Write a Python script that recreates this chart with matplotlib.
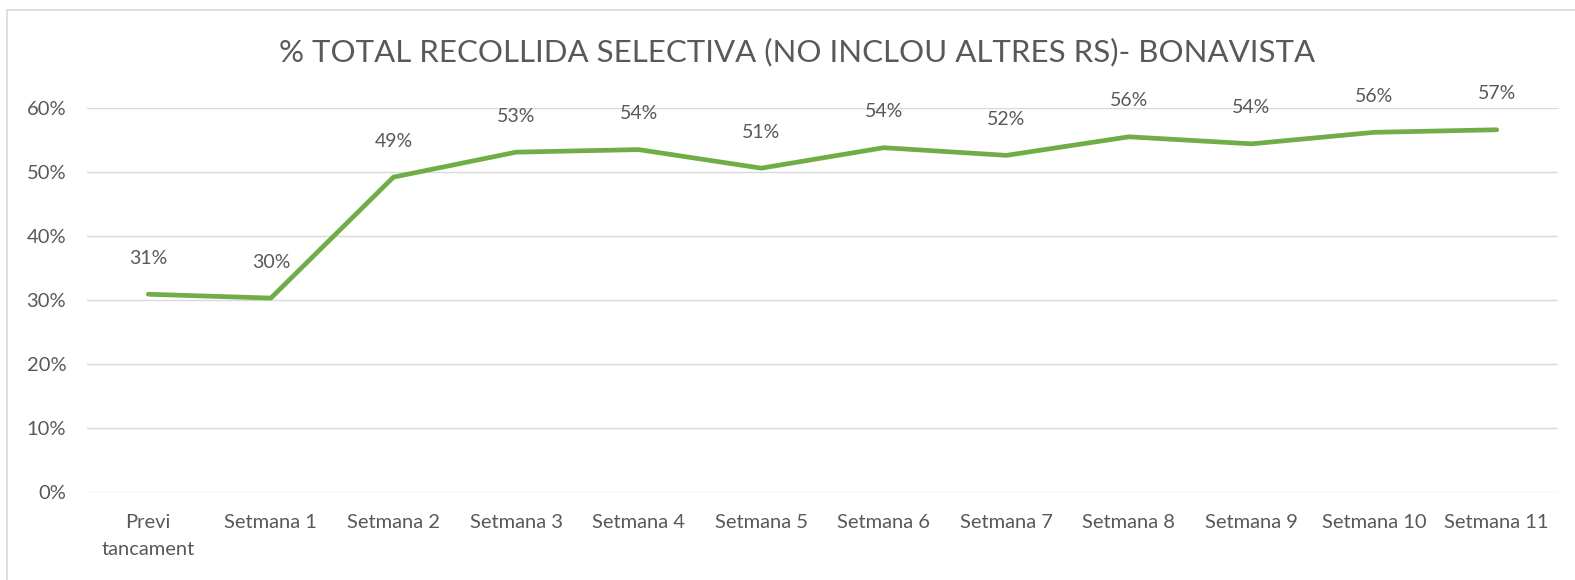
import matplotlib.pyplot as plt
from matplotlib.patches import Rectangle
from matplotlib.ticker import FuncFormatter, MultipleLocator

# data
categories = ['Previ\ntancament', 'Setmana 1', 'Setmana 2', 'Setmana 3', 'Setmana 4',
              'Setmana 5', 'Setmana 6', 'Setmana 7', 'Setmana 8', 'Setmana 9',
              'Setmana 10', 'Setmana 11']
pct = [30.9, 30.3, 49.2, 53.1, 53.5, 50.6, 53.8, 52.6, 55.5, 54.4, 56.2, 56.6]
labels = ['31%', '30%', '49%', '53%', '54%', '51%', '54%', '52%', '56%', '54%', '56%', '57%']

TXT = '#595959'
GREEN = '#70AD47'
plt.rcParams['font.family'] = ['Lato', 'DejaVu Sans']

fig = plt.figure(figsize=(15.75, 5.8), dpi=100)
ax = fig.add_axes([87 / 1575, 1 - 492 / 580, (1558 - 87) / 1575, (492 - 108) / 580])

x = list(range(len(categories)))
ax.plot(x, pct, color=GREEN, lw=3.4, solid_capstyle='round', solid_joinstyle='round', zorder=3)
for xi, yi, lab in zip(x, pct, labels):
    ax.annotate(lab, (xi, yi), xytext=(0, 36), textcoords='offset pixels',
                ha='center', va='center', fontsize=14, color=TXT)

ax.set_xlim(-0.5, len(categories) - 0.5)
ax.set_ylim(0, 60)
ax.yaxis.set_major_locator(MultipleLocator(10))
ax.yaxis.set_major_formatter(FuncFormatter(lambda v, p: f'{v:.0f}%'))
ax.grid(axis='y', color='#D9D9D9', lw=1.0)
ax.set_axisbelow(True)
for s in ax.spines.values():
    s.set_visible(False)
ax.tick_params(length=0, colors=TXT, labelsize=14.5)
ax.tick_params(axis='y', pad=15)
ax.tick_params(axis='x', pad=16)
ax.set_xticks(x)
ax.set_xticklabels(categories, linespacing=1.7)

fig.text(797 / 1575, 1 - 52 / 580, '% TOTAL RECOLLIDA SELECTIVA (NO INCLOU ALTRES RS)- BONAVISTA',
         ha='center', va='center', fontsize=22.5, color=TXT)

# chart area border
fig.patches.append(Rectangle((7 / 1575, -0.05), 1.2, (1 - 10 / 580) + 0.05,
                             transform=fig.transFigure, fill=False, ec='#D9D9D9', lw=1.2))

fig.savefig('out.png', dpi=100)
